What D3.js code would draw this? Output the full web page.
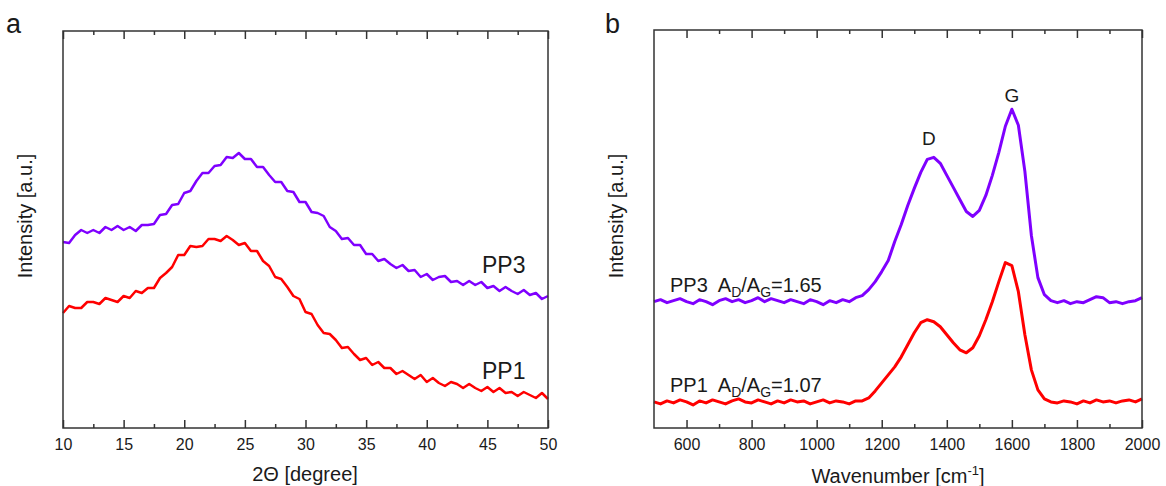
<!DOCTYPE html>
<html>
<head>
<meta charset="utf-8">
<script src="https://cdn.jsdelivr.net/npm/d3@7"></script>
<style>
  body { margin: 0; background: #fff; }
  svg { font-family: "Liberation Sans", Arial, sans-serif; }
</style>
</head>
<body>
<svg width="1166" height="486"></svg>
<script>
// XRD, 2theta 10..50 step 0.5
var xrdAngle = d3.range(10, 50.001, 0.5);
var xrdPP3 = [186,185,193,198,195,198,195,201,198,202,198,201,197,203,203,204,213,214,223,224,
  235,237,247,255,255,262,263,271,270,275,269,269,261,261,253,246,246,237,236,226,
  226,216,215,212,201,197,189,190,183,183,174,174,167,169,164,160,163,157,158,151,
  154,148,151,152,146,147,143,147,143,146,140,142,137,141,137,134,138,133,135,129,132];
var xrdPP1 = [115,122,120,120,126,126,124,130,128,126,132,130,137,135,140,140,150,155,161,173,
  173,182,181,182,189,189,187,192,188,183,185,177,177,167,162,151,149,141,132,129,
  116,114,103,95,94,88,80,81,74,68,70,63,66,60,60,54,57,53,49,53,
  46,50,45,42,46,44,40,44,40,37,41,36,40,35,36,32,36,33,30,35,29];

// Raman, wavenumber 500..2000 step 20
var ramanWave = d3.range(500, 2000.001, 20);
var ramanPP3 = [126,128,125,127,129,126,124,128,126,123,127,129,126,128,125,127,130,126,129,127,
  125,128,126,124,128,126,123,127,125,128,126,130,
  132,138,146,156,167,186,203,222,239,255,268,270,264,252,240,228,216,211,217,232,
  252,275,301,318,302,256,192,150,133,127,125,127,124,126,125,128,131,130,125,126,
  124,126,127,130];
var ramanPP1 = [26,24,27,25,28,26,23,27,25,28,26,24,27,29,26,25,28,26,24,27,
  25,28,26,27,24,26,28,25,27,26,24,27,
  27,30,37,45,53,61,71,83,95,105,108,106,101,93,85,78,75,80,92,108,
  126,146,165,162,136,93,58,38,29,26,25,27,26,24,27,25,28,26,27,25,
  27,28,26,29];

var xrdMajor = d3.range(10, 50.001, 5);
var xrdMinor = d3.range(12.5, 50, 5);
var ramanMajor = d3.range(600, 2000.001, 200);
var ramanMinor = d3.range(700, 2000, 200);

var purple = "#7f00ff", red = "#ff0000", axisCol = "#333";
var svg = d3.select("svg");

function panel(opt) {
  var x = d3.scaleLinear().domain(opt.xDomain).range([opt.left, opt.right]);
  var y = d3.scaleLinear().domain([0, 397]).range([opt.bottom, opt.top]);
  var g = svg.append("g");

  var line = d3.line()
    .x(function(d) { return x(d[0]); })
    .y(function(d) { return y(d[1]); });

  opt.series.forEach(function(s) {
    g.append("path")
      .datum(opt.xs.map(function(v, i) { return [v, s.values[i]]; }))
      .attr("fill", "none")
      .attr("stroke", s.color)
      .attr("stroke-width", opt.lineWidth)
      .attr("stroke-linejoin", "round")
      .attr("d", line);
  });

  // bottom axis, ticks pointing inward
  var bottom = g.append("g")
    .attr("transform", "translate(0," + opt.bottom + ")")
    .call(d3.axisBottom(x).tickValues(opt.major).tickSizeInner(-8).tickSizeOuter(0)
      .tickPadding(11).tickFormat(d3.format("d")));
  g.append("g")
    .attr("transform", "translate(0," + opt.bottom + ")")
    .call(d3.axisBottom(x).tickValues(opt.minor).tickSizeInner(-4).tickSizeOuter(0).tickFormat(""));
  g.append("g")
    .attr("transform", "translate(0," + opt.top + ")")
    .call(d3.axisTop(x).tickValues(opt.major).tickSizeInner(-8).tickSizeOuter(0).tickFormat(""));
  g.append("g")
    .attr("transform", "translate(0," + opt.top + ")")
    .call(d3.axisTop(x).tickValues(opt.minor).tickSizeInner(-4).tickSizeOuter(0).tickFormat(""));

  g.selectAll(".domain").remove();
  g.selectAll(".tick line").attr("stroke", axisCol).attr("stroke-width", 1.5);
  bottom.selectAll(".tick text")
    .attr("font-size", 16)
    .attr("font-family", "Liberation Sans, Arial, sans-serif")
    .attr("fill", "#1a1a1a");

  g.append("rect")
    .attr("x", opt.left).attr("y", opt.top)
    .attr("width", opt.right - opt.left).attr("height", opt.bottom - opt.top)
    .attr("fill", "none").attr("stroke", axisCol).attr("stroke-width", 1.5);

  g.append("text")
    .attr("transform", "translate(" + opt.yTitleX + ",216) rotate(-90)")
    .attr("text-anchor", "middle")
    .attr("font-size", 20).attr("fill", "#1a1a1a")
    .text("Intensity [a.u.]");

  g.append("text")
    .attr("x", opt.letterX).attr("y", 33)
    .attr("font-size", 27).attr("fill", "#1a1a1a")
    .text(opt.letter);

  return { g: g, x: x, y: y };
}

var a = panel({
  left: 63, right: 548, top: 31, bottom: 428,
  xDomain: [10, 50], xs: xrdAngle, major: xrdMajor, minor: xrdMinor,
  lineWidth: 2.5,
  series: [{ values: xrdPP3, color: purple }, { values: xrdPP1, color: red }],
  yTitleX: 32, letter: "a", letterX: 6
});

a.g.append("text")
  .attr("x", 305).attr("y", 481)
  .attr("text-anchor", "middle").attr("font-size", 20).attr("fill", "#1a1a1a")
  .text("2\u0398 [degree]");
a.g.append("text").attr("x", 482).attr("y", 273)
  .attr("font-size", 23).attr("fill", "#1a1a1a").text("PP3");
a.g.append("text").attr("x", 482).attr("y", 379)
  .attr("font-size", 23).attr("fill", "#1a1a1a").text("PP1");

var b = panel({
  left: 654, right: 1142, top: 30, bottom: 428,
  xDomain: [500, 2000], xs: ramanWave, major: ramanMajor, minor: ramanMinor,
  lineWidth: 3,
  series: [{ values: ramanPP3, color: purple }, { values: ramanPP1, color: red }],
  yTitleX: 623, letter: "b", letterX: 605
});

var xt = b.g.append("text")
  .attr("x", 898).attr("y", 483)
  .attr("text-anchor", "middle").attr("font-size", 20).attr("fill", "#1a1a1a");
xt.append("tspan").text("Wavenumber [cm");
xt.append("tspan").attr("font-size", 13).attr("dy", -8).text("-1");
xt.append("tspan").attr("dy", 8).text("]");

function ratioLabel(name, value, yy) {
  var t = b.g.append("text")
    .attr("x", 670).attr("y", yy)
    .attr("font-size", 20).attr("fill", "#1a1a1a")
    .attr("xml:space", "preserve");
  t.append("tspan").text(name + "  A");
  t.append("tspan").attr("font-size", 14).attr("dy", 5).text("D");
  t.append("tspan").attr("dy", -5).text("/A");
  t.append("tspan").attr("font-size", 14).attr("dy", 5).text("G");
  t.append("tspan").attr("dy", -5).text("=" + value);
}
ratioLabel("PP3", "1.65", 292);
ratioLabel("PP1", "1.07", 392);

b.g.append("text").attr("x", b.x(1345)).attr("y", 145)
  .attr("text-anchor", "middle").attr("font-size", 19).attr("fill", "#1a1a1a").text("D");
b.g.append("text").attr("x", b.x(1600)).attr("y", 102)
  .attr("text-anchor", "middle").attr("font-size", 19).attr("fill", "#1a1a1a").text("G");
</script>
</body>
</html>
